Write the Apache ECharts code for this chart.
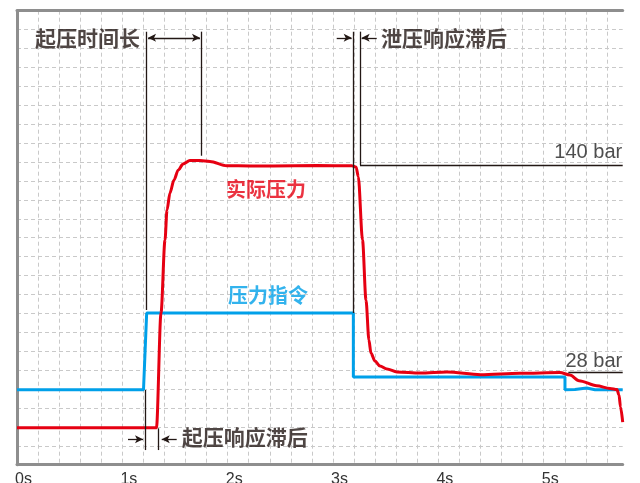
<!DOCTYPE html>
<html><head><meta charset="utf-8">
<script src="https://cdn.jsdelivr.net/npm/echarts@6/dist/echarts.min.js"></script>
<style>html,body{margin:0;padding:0;background:#fff}#c{width:640px;height:483px}</style>
</head><body><div id="c"></div>
<script>
// ---- data ----
const tickLabels = ['0s', '1s', '2s', '3s', '4s', '5s'];
const timeMax = 5.75;          // seconds
const pressureMin = -21.6;     // bar (bottom of frame)
const pressureMax = 223.2;     // bar (top of frame)
const gridRows = 24;

// actual pressure [time s, pressure bar]
const actualPressure = [
  [0, -1.7], [1.324, -1.7], [1.367, 60.2], [1.405, 99.6], [1.424, 115.7], [1.452, 124.9],
  [1.49, 131.9], [1.531, 137.3], [1.576, 140.5], [1.642, 142.4], [1.737, 142.4], [1.832, 141.9],
  [1.991, 139.6], [2.212, 139.5], [2.43, 139.5], [2.848, 139.7], [3.18, 139.6], [3.219, 138.9],
  [3.24, 133.7], [3.28, 99.6], [3.313, 67.2], [3.341, 45.6], [3.36, 38.6], [3.398, 34.3],
  [3.446, 31.6], [3.512, 30.0], [3.607, 28.4], [3.826, 27.8], [4.082, 28.4], [4.4, 26.9],
  [4.775, 27.7], [5.154, 28.1], [5.249, 26.8], [5.335, 23.7], [5.503, 21.0], [5.63, 19.5],
  [5.696, 18.9], [5.715, 16.0], [5.729, 9.5], [5.75, 1.4]
];
// pressure command [time s, pressure bar]
const pressureCommand = [
  [0, 18.8], [1.201, 18.8], [1.231, 60.2], [3.193, 60.2], [3.193, 25.7], [5.202, 25.7],
  [5.202, 18.8], [5.297, 18.9], [5.408, 19.8], [5.487, 18.8], [5.75, 18.8]
];
// guide lines [t1, p1, t2, p2]
const guideLines = [
  [1.225, 211.9, 1.225, 61.8],
  [1.753, 211.9, 1.753, 145.0],
  [1.213, 18.7, 1.213, -13.7],
  [1.341, -2.0, 1.341, -13.7],
  [3.193, 211.9, 3.193, 60.2],
  [3.256, 211.9, 3.256, 140],
  [3.256, 140, 5.75, 140],
  [5.234, 28, 5.75, 28]
];
// arrows [t from, p from, t to, p to]
const doubleArrows = [[1.244, 208.6, 1.737, 208.6]];
const singleArrows = [
  [1.054, -7.9, 1.196, -7.9],
  [1.516, -7.9, 1.374, -7.9],
  [3.035, 208.6, 3.177, 208.6],
  [3.415, 208.6, 3.272, 208.6]
];
// notes [text, t, p]
const blackNotes = [['起压时间长', 1.168, 208.6], ['泄压响应滞后', 3.456, 208.6], ['起压响应滞后', 1.563, -6.5]];
const blackAlign = ['right', 'left', 'left'];
const seriesNotes = [['实际压力', 2.364, 127.1], ['压力指令', 2.383, 69.9]];
const valueNotes = [['140 bar', 5.745, 146.5], ['28 bar', 5.745, 34.1]];

// ---- styles ----
const RED = '#e60012', BLUE = '#00a0e9', INK = '#231815', FRAME = '#8e8e8e';
const CJK = '"Noto Sans CJK SC", sans-serif';
const gridDash = { color: '#c9c9c9', width: 1, type: [4, 3] };

const chart = echarts.init(document.getElementById('c'), null, { renderer: 'canvas' });

const markData = [];
guideLines.forEach(g => markData.push([
  { coord: [g[0], g[1]], symbol: 'none' }, { coord: [g[2], g[3]], symbol: 'none' }]));
doubleArrows.forEach(g => markData.push([
  { coord: [g[0], g[1]], symbol: 'arrow' }, { coord: [g[2], g[3]], symbol: 'arrow' }]));
singleArrows.forEach(g => markData.push([
  { coord: [g[0], g[1]], symbol: 'none' }, { coord: [g[2], g[3]], symbol: 'arrow' }]));

function noteItem(n, align, color, font, size, weight) {
  return {
    value: [n[1], n[2]],
    label: {
      show: true, formatter: n[0], position: [0, 0], align: align, verticalAlign: 'middle',
      color: color, fontFamily: font, fontSize: size, fontWeight: weight
    }
  };
}
const noteData = [];
blackNotes.forEach((n, i) => noteData.push(noteItem(n, blackAlign[i], INK, CJK, 21, 'bold')));
noteData.push(noteItem(seriesNotes[0], 'center', RED, CJK, 20, 'bold'));
noteData.push(noteItem(seriesNotes[1], 'center', BLUE, CJK, 20, 'bold'));
valueNotes.forEach(n => noteData.push(noteItem(n, 'right', '#222', '"Liberation Sans", Arial, sans-serif', 20, 'normal')));

chart.setOption({
  animation: false,
  backgroundColor: '#fff',
  grid: { left: 17, right: 17.3, top: 10.7, bottom: 18.3, containLabel: false, outerBoundsMode: 'none' },
  xAxis: [
    {
      type: 'value', min: 0, max: timeMax, interval: 0.2, position: 'bottom',
      axisLine: { show: true, onZero: false, lineStyle: { color: FRAME, width: 3 } },
      axisTick: { show: false },
      splitLine: { show: true, showMinLine: false, showMaxLine: false, lineStyle: gridDash },
      axisLabel: {
        show: true, margin: 7, color: '#333', fontSize: 16,
        fontFamily: '"Liberation Sans", Arial, sans-serif', padding: [0, 0, 0, 13],
        showMaxLabel: false,
        formatter: v => {
          const r = Math.round(v);
          return Math.abs(v - r) < 1e-6 && tickLabels[r] !== undefined ? tickLabels[r] : '';
        }
      }
    },
    {
      type: 'value', min: 0, max: timeMax, position: 'top',
      axisLine: { show: true, onZero: false, lineStyle: { color: FRAME, width: 3 } },
      axisTick: { show: false }, axisLabel: { show: false }, splitLine: { show: false }
    }
  ],
  yAxis: [
    { type: 'value', min: pressureMin, max: pressureMax, show: false },
    {
      type: 'value', min: 0, max: gridRows, interval: 1, position: 'left',
      axisLine: { show: true, onZero: false, lineStyle: { color: FRAME, width: 3 } },
      axisTick: { show: false }, axisLabel: { show: false },
      splitLine: { show: true, showMinLine: false, showMaxLine: false, lineStyle: gridDash }
    }
  ],
  series: [
    {
      name: '压力指令', type: 'line', xAxisIndex: 0, yAxisIndex: 0, data: pressureCommand,
      showSymbol: false, smooth: false, lineStyle: { color: BLUE, width: 3 }, z: 3
    },
    {
      name: '实际压力', type: 'line', xAxisIndex: 0, yAxisIndex: 0, data: actualPressure,
      showSymbol: false, smooth: 0.3, smoothMonotone: 'x', lineStyle: { color: RED, width: 3 }, z: 4
    },
    {
      name: 'guides', type: 'line', xAxisIndex: 0, yAxisIndex: 0, data: [], clip: false, silent: true, z: 5,
      markLine: {
        silent: true, animation: false, symbolSize: [6, 8],
        label: { show: false },
        lineStyle: { color: INK, width: 1.3, type: 'solid' },
        emphasis: { disabled: true },
        data: markData
      }
    },
    {
      name: 'notes', type: 'scatter', xAxisIndex: 0, yAxisIndex: 0, symbolSize: 0, clip: false,
      silent: true, data: noteData, z: 6
    }
  ]
});
</script></body></html>
